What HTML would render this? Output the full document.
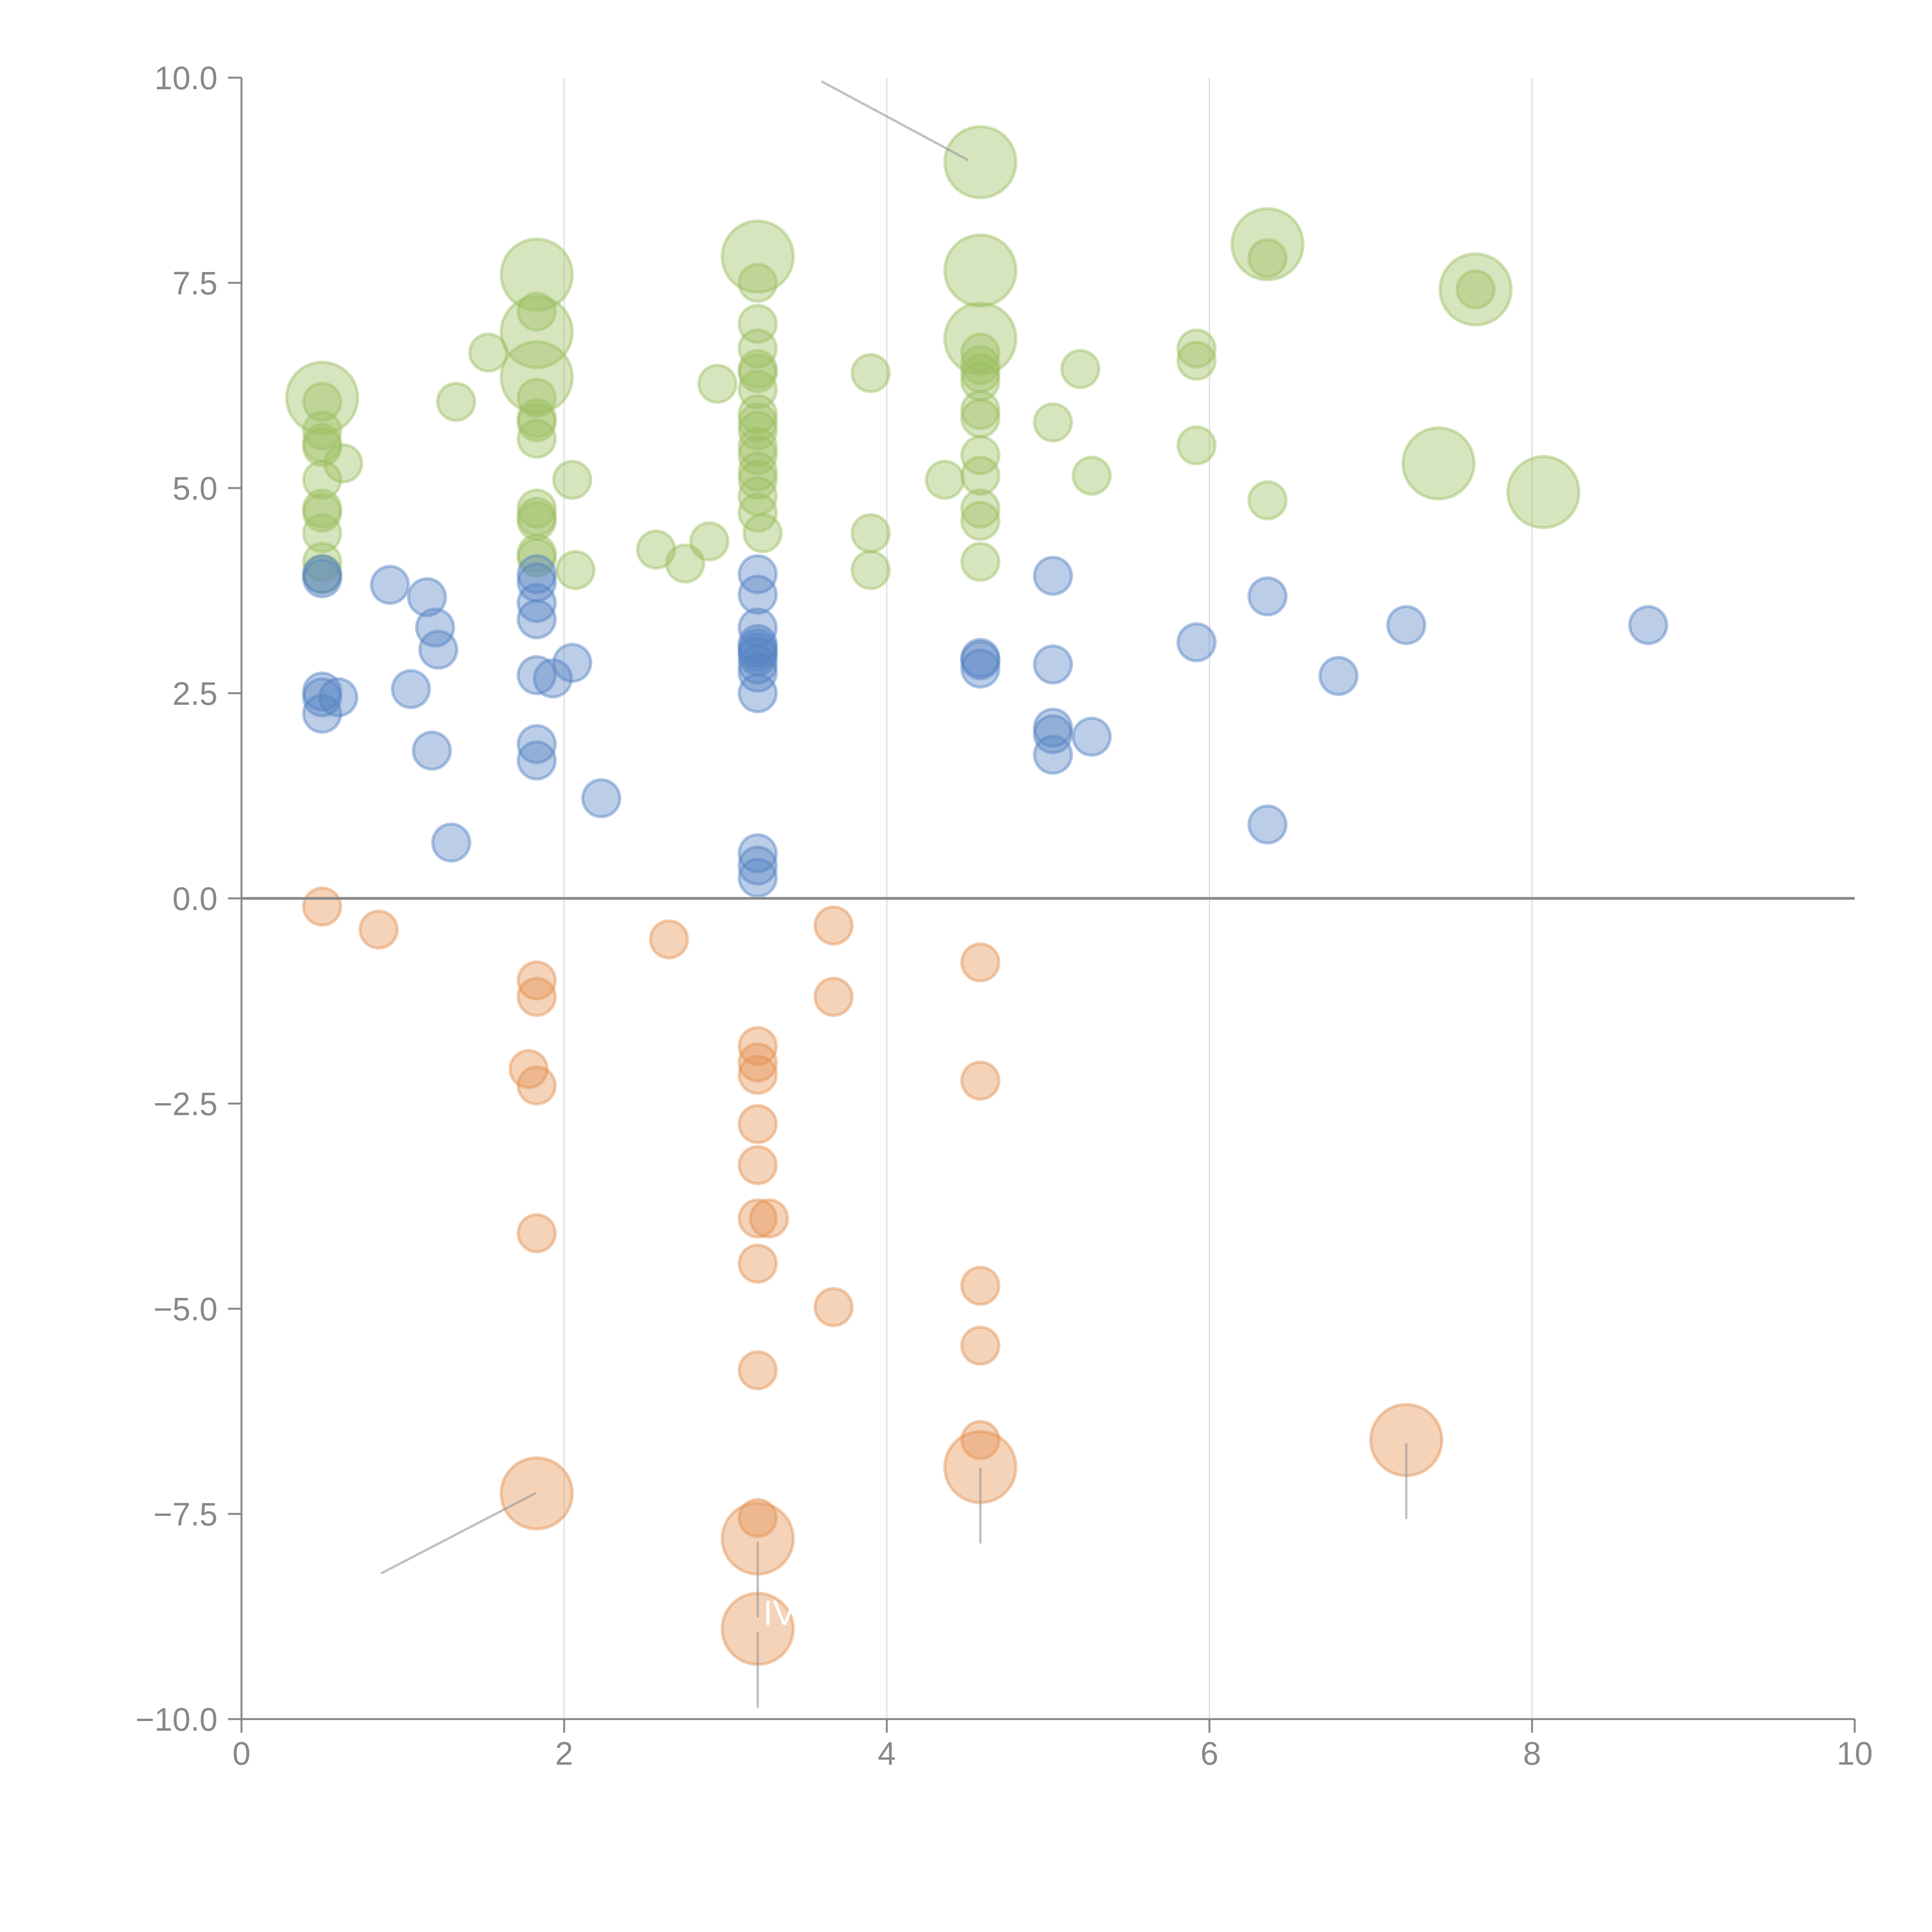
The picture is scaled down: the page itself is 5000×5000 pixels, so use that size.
<!DOCTYPE html>
<html><head><meta charset="utf-8"><style>
html,body{margin:0;padding:0;background:#fff;}
svg{display:block;}
text{font-family:"Liberation Sans",sans-serif;fill:#888;}
</style></head><body>
<svg id="chart" width="5000" height="5000" viewBox="0 0 5000 5000" xmlns="http://www.w3.org/2000/svg">
<g id="grid"></g>
<g id="bubbles"></g>
<g id="annot"></g>
<g id="axes"></g>
<text x="1975" y="4205" font-size="90" style="fill:#fff">IV</text>
</svg>
<script>
const xTicks = [0, 2, 4, 6, 8, 10];
const xTickLabels = ["0", "2", "4", "6", "8", "10"];
const yTicks = [-10, -7.5, -5, -2.5, 0, 2.5, 5, 7.5, 10];
const yTickLabels = ["\u221210.0", "\u22127.5", "\u22125.0", "\u22122.5", "0.0", "2.5", "5.0", "7.5", "10.0"];

// Green series (x, y, size: 1 small, 2 large)
const greenX = [0.5,0.5,0.5,0.5,0.5,0.5,0.5,0.5,0.5,0.5,0.5,0.63,1.53,1.33,
  1.83,1.83,1.83,1.83,1.83,1.83,1.83,1.83,1.83,1.83,1.83,1.83,1.83,2.05,2.07,2.57,2.75,2.9,2.95,
  3.2,3.2,3.2,3.2,3.2,3.2,3.2,3.2,3.2,3.2,3.2,3.2,3.2,3.2,3.2,3.2,3.23,
  3.9,3.9,3.9,4.36,4.58,4.58,4.58,4.58,4.58,4.58,4.58,4.58,4.58,4.58,4.58,4.58,4.58,4.58,
  5.03,5.2,5.27,5.92,5.92,5.92,6.36,6.36,6.36,7.42,7.65,7.65,8.07];
const greenY = [6.1,6.05,5.7,5.5,5.55,5.1,4.75,4.7,4.45,4.1,3.95,5.3,6.65,6.05,
  7.6,6.9,6.35,7.15,6.1,5.85,5.8,5.6,4.75,4.65,4.6,4.2,4.15,5.1,4.0,4.25,4.08,4.35,6.27,
  7.82,7.5,7.0,6.7,6.45,6.4,6.2,5.9,5.8,5.7,5.5,5.4,5.2,5.1,4.9,4.7,4.45,
  6.4,4.45,4.0,5.1,8.97,7.65,6.82,6.65,6.5,6.4,6.3,5.95,5.85,5.4,5.15,4.75,4.6,4.1,
  5.8,6.45,5.15,6.7,6.55,5.52,7.97,7.8,4.85,5.3,7.42,7.42,4.95];
const greenS = [2,1,1,1,1,1,1,1,1,1,1,1,1,1,
  2,2,2,1,1,1,1,1,1,1,1,1,1,1,1,1,1,1,1,
  2,1,1,1,1,1,1,1,1,1,1,1,1,1,1,1,1,
  1,1,1,1,2,2,2,1,1,1,1,1,1,1,1,1,1,1,
  1,1,1,1,1,1,2,1,1,2,2,1,2];

const blueX = [0.5,0.5,0.5,0.5,0.5,0.6,0.92,1.15,1.2,1.22,1.05,1.18,1.3,
  1.83,1.83,1.83,1.83,1.83,1.83,1.83,1.93,2.05,2.23,
  3.2,3.2,3.2,3.2,3.2,3.2,3.2,3.2,3.2,3.2,3.2,3.2,3.2,
  4.58,4.58,4.58,5.03,5.03,5.03,5.03,5.03,5.27,5.92,6.36,6.36,6.8,7.22,8.72];
const blueY = [3.95,3.9,2.52,2.45,2.25,2.45,3.82,3.67,3.3,3.03,2.55,1.8,0.68,
  3.95,3.85,3.6,3.4,2.72,1.88,1.68,2.68,2.87,1.22,
  3.95,3.7,3.3,3.1,3.05,3.0,2.95,2.85,2.75,2.5,0.55,0.4,0.25,
  2.93,2.9,2.8,3.93,2.85,2.08,2.0,1.75,1.97,3.12,3.68,0.9,2.71,3.33,3.33];
const blueS = blueX.map(() => 1);

const orangeX = [0.5,0.85,1.83,1.83,1.83,1.83,1.83,1.78,2.65,
  3.2,3.2,3.2,3.2,3.2,3.2,3.2,3.2,3.2,3.2,3.2,3.27,
  3.67,3.67,3.67,4.58,4.58,4.58,4.58,4.58,4.58,7.22];
const orangeY = [-0.1,-0.38,-1.0,-1.2,-2.28,-4.08,-7.25,-2.08,-0.5,
  -1.8,-2.0,-2.15,-2.75,-3.25,-3.9,-4.45,-5.75,-7.55,-7.8,-8.9,-3.9,
  -0.33,-1.2,-4.98,-0.78,-2.22,-4.72,-5.45,-6.6,-6.93,-6.6];
const orangeS = [1,1,1,1,1,1,2,1,1,
  1,1,1,1,1,1,1,1,1,2,2,1,
  1,1,1,1,1,1,1,1,2,2];

// leader lines in data units
const leaderX1 = [3.6,0.87,3.2,3.2,4.58,7.22];
const leaderY1 = [9.95,-8.22,-7.85,-8.95,-6.95,-6.65];
const leaderX2 = [4.5,1.82,3.2,3.2,4.58,7.22];
const leaderY2 = [9.0,-7.25,-8.75,-9.85,-7.85,-7.55];

const X0 = 625, X1 = 4800, Y0 = 4449, Y1 = 201;
const xs = v => X0 + (v - 0) / 10 * (X1 - X0);
const ys = v => Y0 - (v + 10) / 20 * (Y0 - Y1);
const rs = s => s === 2 ? 92 : 48;
const NS = "http://www.w3.org/2000/svg";
function mk(tag, attrs, parent) {
  const e = document.createElementNS(NS, tag);
  for (const k in attrs) e.setAttribute(k, attrs[k]);
  parent.appendChild(e);
  return e;
}
const grid = document.getElementById('grid');
[2,4,6,8].forEach(v => {
  const l = mk('line', {x1: xs(v), x2: xs(v), y1: ys(10), y2: ys(-10), stroke: '#dcdcdc', 'stroke-width': 3}, grid);
  
  
});
const bub = document.getElementById('bubbles');
function series(X, Y, S, col, name) {
  for (let i = 0; i < X.length; i++) {
    const c = mk('circle', {cx: xs(X[i]), cy: ys(Y[i]), r: rs(S[i]), fill: col, 'fill-opacity': 0.4, stroke: col, 'stroke-opacity': 0.45, 'stroke-width': 8}, bub);
    
    
  }
}
series(greenX, greenY, greenS, 'rgb(155,190,95)', 'green-bubble');
series(blueX, blueY, blueS, 'rgb(85,130,195)', 'blue-bubble');
series(orangeX, orangeY, orangeS, 'rgb(228,145,80)', 'orange-bubble');

const an = document.getElementById('annot');
for (let i = 0; i < leaderX1.length; i++) {
  const l = mk('line', {x1: xs(leaderX1[i]), y1: ys(leaderY1[i]), x2: xs(leaderX2[i]), y2: ys(leaderY2[i]), stroke: 'rgb(150,150,150)', 'stroke-opacity': 0.6, 'stroke-width': 6, 'stroke-linecap': 'round'}, an);
  
  
}

const ax = document.getElementById('axes');
const za = mk('line', {x1: X0, x2: X1, y1: ys(0), y2: ys(0), stroke: '#888', 'stroke-width': 7}, ax);


const ya = mk('line', {x1: X0, x2: X0, y1: Y1, y2: Y0, stroke: '#888', 'stroke-width': 5}, ax);


const xa = mk('line', {x1: X0, x2: X1, y1: Y0, y2: Y0, stroke: '#888', 'stroke-width': 5}, ax);


yTicks.forEach((v, i) => {
  const t = mk('line', {x1: X0 - 35, x2: X0, y1: ys(v), y2: ys(v), stroke: '#888', 'stroke-width': 5}, ax);
  
  
  const tx = mk('text', {x: X0 - 62, y: ys(v) + 30, 'font-size': 84, 'text-anchor': 'end'}, ax);
  tx.textContent = yTickLabels[i];
  
  
});
xTicks.forEach((v, i) => {
  const t = mk('line', {x1: xs(v), x2: xs(v), y1: Y0, y2: Y0 + 35, stroke: '#888', 'stroke-width': 5}, ax);
  
  
  const tx = mk('text', {x: xs(v), y: Y0 + 118, 'font-size': 84, 'text-anchor': 'middle'}, ax);
  tx.textContent = xTickLabels[i];
  
  
});
</script>
</body></html>
